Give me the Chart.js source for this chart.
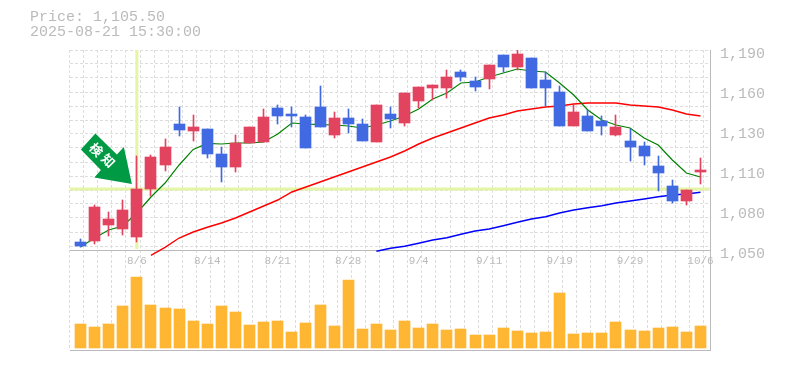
<!DOCTYPE html>
<html lang="ja">
<head>
  <meta charset="UTF-8" />
  <title>Price chart</title>
  <script src="https://cdn.jsdelivr.net/npm/chart.js"></script>
  <style>
    html, body { margin: 0; padding: 0; background: #fff; }
    #wrap { position: relative; width: 785px; height: 370px; overflow: hidden; }
    #wrap canvas { position: absolute; left: 0; }
    #priceChart { top: 0; }
    #volumeChart { top: 250px; }
    #info { position: absolute; left: 30px; top: 10px; font: 15px/15px 'Liberation Mono', monospace; color: #bbb; white-space: pre; z-index: 2; }
  </style>
</head>
<body>
  <div id="wrap">
    <div id="info">Price: 1,105.50
2025-08-21 15:30:00</div>
    <canvas id="volumeChart" width="785" height="120"></canvas>
    <canvas id="priceChart" width="785" height="270"></canvas>
  </div>

  <script>
    const opens = [1055.6,1056.3,1067.5,1064.7,1059.1,1092.7,1109.5,1138.2,1133.3,1134.7,1117.2,1108.1,1124.9,1125.6,1149.4,1145.2,1143.1,1150.1,1130.5,1142.4,1138.2,1125.6,1145.2,1138.9,1154.3,1163.4,1163.4,1174.6,1168.3,1169.7,1186.5,1178.1,1184.4,1169,1160.6,1136.8,1143.8,1140.3,1130.5,1126.3,1122.8,1108.8,1094.8,1084.3,1104.6];
    const highs = [1057.7,1081.5,1076.6,1085,1115.8,1116.5,1127.7,1150.1,1144.5,1134.7,1122.1,1130.5,1136.1,1148.7,1151.5,1150.1,1144.5,1164.8,1146.6,1148.7,1141.7,1151.5,1150.1,1159.9,1164.1,1165.5,1176,1176,1171.1,1179.5,1186.5,1190,1184.4,1174.6,1164.8,1151.5,1148,1143.8,1144.5,1134.7,1125.6,1115.8,1099,1092,1114.4];
    const lows = [1052.1,1054.2,1059.8,1060.5,1055.6,1087.8,1105.3,1129.8,1126.3,1114.4,1097.6,1104.6,1124.9,1125.6,1138.2,1136.1,1121.4,1136.1,1128.4,1131.9,1126.3,1125.6,1135.4,1136.8,1149.4,1155,1156.4,1168.3,1161.3,1162.7,1174.6,1176,1163.4,1150.8,1136.8,1136.8,1133.3,1130.5,1129.8,1112.3,1109.5,1091.3,1082.9,1081.5,1096.2];
    const closes = [1052.8,1080.1,1071.7,1078,1092.7,1115.1,1122.1,1134,1136.1,1117.2,1108.1,1124.9,1136.1,1143.1,1143.8,1143.8,1121.4,1136.1,1142.4,1138.2,1126.3,1151.5,1141.7,1159.9,1164.1,1165.5,1171.1,1171.1,1164.1,1179.5,1178.1,1187.2,1163.4,1163.4,1136.8,1146.6,1133.3,1136.8,1136.1,1122.1,1115.8,1103.9,1084.3,1092,1106];
    const volumes = [24000,21000,24000,42000,71000,43000,40000,39000,27000,24000,42000,36000,23000,26000,27000,16000,25000,43000,22000,68000,19000,24000,18000,27000,20000,24000,18000,19000,13000,13000,20000,17000,15000,16000,55000,14000,15000,15000,26000,18000,17000,20000,21000,16000,22000];

    // moving averages, the longer ones only start part way through
    const maShort = [1052.1,1058.4,1064,1066.8,1075.9,1087.1,1096.9,1109.5,1120.4,1124.6,1124.2,1124.9,1124.9,1125.6,1131.2,1138.9,1138.2,1137.7,1137.5,1136.8,1135.4,1137.5,1140.3,1143.8,1148.7,1155.7,1159.9,1166.9,1167.6,1171.1,1173.9,1176.7,1175.3,1174.6,1166.9,1158.5,1148,1141,1137.5,1135.4,1128.4,1123.5,1113,1103.9,1101.1];
    const maMidStart = 5;
    const maMid = [1046.3,1051.9,1058.4,1062.6,1065.9,1068.9,1072.4,1076.6,1080.8,1085,1090.6,1094.1,1097.6,1101.1,1104.6,1108.1,1111.6,1115.1,1119.3,1124.2,1128.4,1131.9,1135.4,1138.9,1142.4,1144.5,1147.3,1148.7,1150.1,1150.8,1152.2,1152.9,1152.9,1152.9,1151.5,1150.8,1150.1,1148,1145.2,1143.8];
    const maLongStart = 21;
    const maLong = [1049.1,1051.2,1052.6,1054.7,1057,1058.6,1061,1063.3,1064.7,1067,1069.4,1071.7,1073.3,1075.9,1078,1079.6,1081,1082.9,1084.3,1085.7,1087.3,1088.5,1089.2,1090.4];

    const yTickValues = [1190, 1162, 1134, 1106, 1078, 1050];
    const yTickLabels = ['1,190', '1,160', '1,130', '1,110', '1,080', '1,050'];
    const xTickIndexes = [4, 9, 14, 19, 24, 29, 34, 39, 44];
    const xTickLabels = ['8/6', '8/14', '8/21', '8/28', '9/4', '9/11', '9/19', '9/29', '10/6'];

    const alertIndex = 4;
    const alertPrice = 1092.65;

    const UP = '#e2435f', DOWN = '#4169e1', VOL = '#ffb733';
    const GRID = '#ddd', AXIS = '#bbb', TEXT = '#bbb';
    const MONO = "'Liberation Mono', monospace";

    const xMin = -0.745, xMax = 44.674;
    const dashed = { display: false, dash: [3, 2] };

    const candleColors = closes.map((c, i) => (c >= opens[i] ? UP : DOWN));

    function series(values, start) {
      return values.map((v, i) => ({ x: i + start, y: v }));
    }

    function verticalGrid(axis) {
      const t = [];
      for (let k = 0; k <= 45; k++) t.push({ value: xMin - 0.03 + k });
      axis.ticks = t;
    }

    function xGridAxis() {
      return {
        type: 'linear', min: xMin, max: xMax, offset: false,
        grid: { color: GRID, drawTicks: false, offset: false },
        border: dashed,
        ticks: { display: false },
        afterBuildTicks: verticalGrid
      };
    }

    // keeps bars on whole pixels so they stay sharp
    const snapBars = {
      id: 'snapBars',
      afterDatasetsUpdate(chart) {
        chart.getSortedVisibleDatasetMetas().forEach(meta => {
          if (meta.type !== 'bar') return;
          meta.data.forEach(el => {
            el.x = Math.floor(el.x + 0.001) + 0.5;
            el.y = Math.round(el.y);
            el.base = Math.round(el.base);
          });
        });
      }
    };

    const alertArrow = {
      id: 'alertArrow',
      afterDatasetsDraw(chart) {
        const ctx = chart.ctx;
        const ox = chart.scales.x.getPixelForValue(alertIndex);
        const oy = chart.scales.y.getPixelForValue(alertPrice);
        const shape = [[-5, -5], [-42.5, -11.5], [-36, -19], [-56, -39.5], [-41.5, -55.5], [-20, -34.5], [-13, -42]];
        ctx.save();
        ctx.fillStyle = '#009944';
        ctx.beginPath();
        shape.forEach((p, i) => (i ? ctx.lineTo(ox + p[0], oy + p[1]) : ctx.moveTo(ox + p[0], oy + p[1])));
        ctx.closePath();
        ctx.fill();
        ctx.fillStyle = '#fff';
        ctx.font = "bold 13px 'Noto Sans CJK JP'";
        ctx.textAlign = 'center';
        ctx.textBaseline = 'middle';
        [['検', -40.5, -39.5], ['知', -28.5, -28.5]].forEach(g => {
          ctx.save();
          ctx.translate(ox + g[1], oy + g[2]);
          ctx.rotate(Math.PI / 4);
          ctx.fillText(g[0], 0, 0);
          ctx.restore();
        });
        ctx.restore();
      }
    };

    function lineSet(data, color, width, order) {
      return { type: 'line', data, borderColor: color, borderWidth: width, pointRadius: 0, tension: 0, order, clip: false };
    }

    new Chart(document.getElementById('priceChart'), {
      type: 'bar',
      data: {
        datasets: [
          {
            data: opens.map((o, i) => ({ x: i, y: [o, closes[i]] })),
            backgroundColor: candleColors, barThickness: 11, grouped: false, order: 1
          },
          {
            data: highs.map((h, i) => ({ x: i, y: [lows[i], h] })),
            backgroundColor: candleColors, barThickness: 1, grouped: false, order: 2
          },
          lineSet(series(maShort, 0), '#008000', 1.2, 3),
          lineSet(series(maMid, maMidStart), '#ff0000', 1.4, 3),
          lineSet(series(maLong, maLongStart), '#0000ff', 1.4, 3),
          lineSet([{ x: xMin, y: alertPrice }, { x: xMax, y: alertPrice }], '#e4f5a5', 3, 4),
          lineSet([{ x: alertIndex, y: 1190 }, { x: alertIndex, y: 1050.7 }], '#e4f5a5', 3, 4)
        ]
      },
      options: {
        responsive: false,
        animation: false,
        events: [],
        layout: { padding: { left: 70, top: 50 } },
        plugins: { legend: { display: false }, tooltip: { enabled: false } },
        scales: {
          x: xGridAxis(),
          xLabels: {
            type: 'linear', position: 'bottom', min: xMin, max: xMax, offset: false,
            grid: { display: false, drawTicks: false },
            border: { color: AXIS },
            ticks: {
              color: TEXT, font: { family: MONO, size: 11 }, autoSkip: false, maxRotation: 0, padding: 4,
              callback: (v, i) => xTickLabels[i]
            },
            afterBuildTicks: axis => { axis.ticks = xTickIndexes.map(v => ({ value: v })); },
            afterFit: axis => { axis.height = 20; }
          },
          y: {
            min: 1050, max: 1190,
            grid: { color: GRID, drawTicks: false },
            border: dashed,
            ticks: { display: false },
            afterBuildTicks: axis => {
              const t = [];
              for (let k = 0; k <= 14; k++) t.push({ value: 1190 - 9.8 * k });
              axis.ticks = t;
            }
          },
          yLabels: {
            position: 'right', min: 1050, max: 1190,
            grid: { display: false, drawTicks: false },
            border: { color: AXIS },
            ticks: {
              color: TEXT, font: { family: MONO, size: 15 }, padding: 10, autoSkip: false,
              callback: (v, i) => yTickLabels[i]
            },
            // the labels sit a little under their tick
            afterBuildTicks: axis => { axis.ticks = yTickValues.map(v => ({ value: v - 3.15 })); },
            afterFit: axis => { axis.width = 75; }
          }
        }
      },
      plugins: [snapBars, alertArrow]
    });

    new Chart(document.getElementById('volumeChart'), {
      type: 'bar',
      data: {
        datasets: [{
          data: volumes.map((v, i) => ({ x: i, y: v })),
          backgroundColor: VOL, barThickness: 11, grouped: false
        }]
      },
      options: {
        responsive: false,
        animation: false,
        events: [],
        layout: { padding: { left: 70 } },
        plugins: { legend: { display: false }, tooltip: { enabled: false } },
        scales: {
          x: xGridAxis(),
          xBase: {
            type: 'linear', position: 'bottom', min: xMin, max: xMax, offset: false,
            grid: { display: false, drawTicks: false },
            border: { color: AXIS },
            ticks: { display: false },
            afterFit: axis => { axis.height = 20; }
          },
          y: {
            position: 'right', min: -2000, max: 98000, beginAtZero: false,
            grid: { display: false, drawTicks: false },
            border: { color: AXIS },
            ticks: { display: false },
            afterFit: axis => { axis.width = 75; }
          }
        }
      },
      plugins: [snapBars]
    });
  </script>
</body>
</html>
